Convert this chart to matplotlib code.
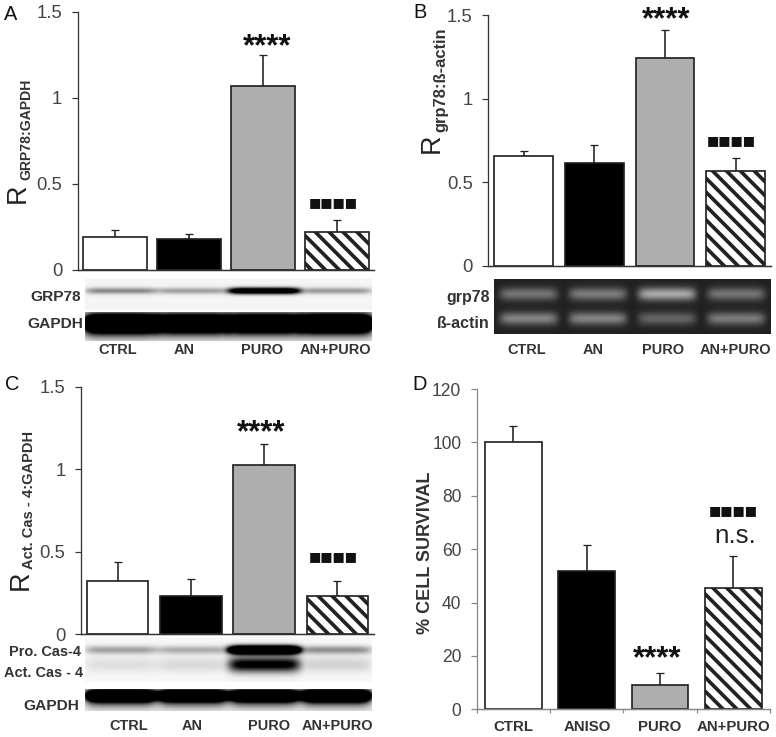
import numpy as np
import matplotlib
matplotlib.use("Agg")
import matplotlib.pyplot as plt

W, H = 776, 737
DPI = 125
PX = 72 / DPI  # one pixel in points

plt.rcParams['font.family'] = ['Liberation Sans', 'DejaVu Sans']
plt.rcParams['hatch.linewidth'] = 3.7 * PX

# bar data
labels_a = ["CTRL", "AN", "PURO", "AN+PURO"]
values_a = [0.19, 0.18, 1.07, 0.22]
errors_a = [0.045, 0.03, 0.18, 0.07]

labels_b = ["CTRL", "AN", "PURO", "AN+PURO"]
values_b = [0.655, 0.615, 1.245, 0.565]
errors_b = [0.03, 0.11, 0.165, 0.08]

labels_c = ["CTRL", "AN", "PURO", "AN+PURO"]
values_c = [0.32, 0.235, 1.025, 0.235]
errors_c = [0.115, 0.10, 0.125, 0.085]

labels_d = ["CTRL", "ANISO", "PURO", "AN+PURO"]
values_d = [100.3, 52, 9, 45.5]
errors_d = [5.8, 9.5, 4.5, 12]

# band strength per lane for the blots (0 = nothing, 1 = saturated)
grp78_a = [0.45, 0.35, 1.6, 0.38]
gapdh_a = [2.6, 2.4, 2.4, 2.6]
gapdh_a_low = [0.3, 0.25, 0.25, 0.25]
grp78_b = [0.55, 0.6, 0.9, 0.55]
actin_b = [0.65, 0.65, 0.45, 0.6]
pro_c = [0.35, 0.3, 2.6, 0.42]
act_c = [0.1, 0.12, 1.1, 0.15]
gapdh_c = [2.8, 2.6, 2.6, 2.8]
gapdh_c_low = [0.3, 0.3, 0.3, 0.3]


def px_axes(fig, left, top, right, bottom):
    return fig.add_axes([left / W, 1 - bottom / H, (right - left) / W, (bottom - top) / H])


def fig_text(fig, x, y, s, **kw):
    kw.setdefault('ha', 'center')
    kw.setdefault('va', 'center')
    return fig.text(x / W, 1 - y / H, s, **kw)


def draw_bars(ax, values, errors, width, ymax, yticks, ticklabels, size, axis_color):
    x = np.arange(len(values))
    colors = ['white', 'black', '#aeaeae', 'white']
    ax.errorbar(x, values, yerr=[np.zeros(4), errors], fmt='none', ecolor='#222222',
                elinewidth=1.6 * PX, capsize=4.5 * PX, capthick=1.3 * PX, zorder=1)
    for i in range(4):
        ax.bar(x[i], values[i], width, color=colors[i], edgecolor='#222222',
               linewidth=1.7 * PX, hatch='\\\\\\' if i == 3 else None, zorder=2)
    ax.set_xlim(-0.5, 3.5)
    ax.set_ylim(0, ymax)
    ax.set_yticks(yticks)
    ax.set_yticklabels(ticklabels, fontsize=size * PX, color='#444444')
    ax.tick_params(axis='y', length=6 * PX, width=1.2 * PX, color=axis_color, pad=9.5 * PX)
    for s in ['top', 'right']:
        ax.spines[s].set_visible(False)
    ax.spines['left'].set_color(axis_color)
    ax.spines['left'].set_linewidth(1.3 * PX)
    ax.spines['bottom'].set_color(axis_color)
    ax.spines['bottom'].set_linewidth(1.5 * PX)
    ax.set_xticks([])


def draw_blot(fig, box, bands, background, dark=False, lane_w=0.5):
    # bands: (height fraction, thickness fraction, lane strengths)
    left, top, right, bottom = box
    ax = px_axes(fig, left, top, right, bottom)
    h, w = bottom - top, right - left
    yy = np.linspace(0, 1, h * 2)[:, None]
    xx = np.linspace(0, 4, w * 2)
    img = np.zeros((h * 2, w * 2))
    for frac, thick, strengths in bands:
        lane = np.zeros_like(xx)
        for i, s in enumerate(strengths):
            lane += s * np.exp(-((xx - i - 0.5) / lane_w) ** 8)
        img += lane[None, :] * np.exp(-((yy - frac) / thick) ** 2)
    img = np.clip(img, 0, 1)
    if dark:
        rgb = background + (0.72 - background) * img
    else:
        rgb = background * (1 - img)
    ax.imshow(rgb, cmap='gray', vmin=0, vmax=1, aspect='auto', interpolation='bilinear')
    ax.axis('off')
    return ax


def lane_labels(fig, xs, y, labels, size=14.5):
    for xp, lab in zip(xs, labels):
        fig_text(fig, xp, y, lab, fontsize=size * PX, fontweight='bold', color='#333333')


def stars(fig, x, y):
    fig_text(fig, x, y, "****", fontsize=31 * PX, fontweight='bold', color='#111111')


def squares(fig, x, y, s="■■■■", size=13):
    fig_text(fig, x, y, s, fontsize=size * PX, color='#111111', family=['DejaVu Sans'])


def y_title(fig, x_r, y_r, main, x_s, y_s, sub, sub_size=14):
    fig_text(fig, x_r, y_r, main, fontsize=27 * PX, rotation=90, color='#222222')
    fig_text(fig, x_s, y_s, sub, fontsize=sub_size * PX, rotation=90,
             fontweight='bold', color='#333333')


fig = plt.figure(figsize=(W / DPI, H / DPI), dpi=DPI, facecolor='white')
ticks_r = [0, 0.5, 1, 1.5]
ticks_r_lab = ['0', '0.5', '1', '1.5']

# panel A
ax_a = px_axes(fig, 77.7, 11.7, 374, 270)
draw_bars(ax_a, values_a, errors_a, 0.87, 1.5, ticks_r, ticks_r_lab, 18.5, '#333333')
fig_text(fig, 11, 14, "A", fontsize=20 * PX, color='#111111')
y_title(fig, 18, 193, "R", 26, 129, "GRP78:GAPDH")
stars(fig, 267, 47)
squares(fig, 333, 203)
draw_blot(fig, (85, 279, 372, 310), [(0.40, 0.10, grp78_a)], 0.96)
draw_blot(fig, (85, 312, 372, 341), [(0.40, 0.30, gapdh_a), (0.75, 0.25, gapdh_a_low)], 0.92, lane_w=0.52)
fig_text(fig, 56, 297, "GRP78", fontsize=15.5 * PX, fontweight='bold', color='#333333')
fig_text(fig, 55, 324, "GAPDH", fontsize=15.5 * PX, fontweight='bold', color='#333333')
lane_labels(fig, [118, 184, 262, 335], 350, labels_a)

# panel B
ax_b = px_axes(fig, 488.3, 15, 771, 266)
draw_bars(ax_b, values_b, errors_b, 0.83, 1.5, ticks_r, ticks_r_lab, 18.5, '#333333')
fig_text(fig, 420, 12, "B", fontsize=20 * PX, color='#111111')
y_title(fig, 432, 143, "R", 441, 80, "grp78:ß-actin", 16.5)
stars(fig, 666, 20)
squares(fig, 731.5, 141)
draw_blot(fig, (494, 279, 770, 334), [(0.27, 0.12, grp78_b), (0.72, 0.12, actin_b)], 0.13,
          dark=True, lane_w=0.42)
fig_text(fig, 468, 297, "grp78", fontsize=16 * PX, fontweight='bold', color='#333333')
fig_text(fig, 463, 324, "ß-actin", fontsize=16 * PX, fontweight='bold', color='#333333')
lane_labels(fig, [527, 593, 663, 735], 350, labels_b)

# panel C
ax_c = px_axes(fig, 81, 386.7, 374, 634.3)
draw_bars(ax_c, values_c, errors_c, 0.84, 1.5, ticks_r, ticks_r_lab, 18.5, '#333333')
fig_text(fig, 12, 385, "C", fontsize=20 * PX, color='#111111')
y_title(fig, 21, 580, "R", 29, 500, "Act. Cas - 4:GAPDH", 14.6)
stars(fig, 261, 433)
squares(fig, 333, 557)
draw_blot(fig, (85, 637, 372, 682), [(0.30, 0.09, pro_c), (0.62, 0.17, act_c)], 0.97)
draw_blot(fig, (85, 689, 372, 711), [(0.30, 0.27, gapdh_c), (0.72, 0.25, gapdh_c_low)], 0.92, lane_w=0.49)
fig_text(fig, 45, 652, "Pro. Cas-4", fontsize=14.5 * PX, fontweight='bold', color='#333333')
fig_text(fig, 44, 673, "Act. Cas - 4", fontsize=14.5 * PX, fontweight='bold', color='#333333')
fig_text(fig, 51, 706, "GAPDH", fontsize=15.5 * PX, fontweight='bold', color='#333333')
lane_labels(fig, [129, 192, 269, 337], 726, labels_c)

# panel D
ax_d = px_axes(fig, 476.7, 389, 770, 709.3)
draw_bars(ax_d, values_d, errors_d, 0.77, 120, [0, 20, 40, 60, 80, 100, 120],
          ['0', '20', '40', '60', '80', '100', '120'], 17.5, '#888888')
ax_d.set_xticks([k - 0.5 for k in range(5)])
ax_d.set_xticklabels([])
ax_d.tick_params(axis='x', length=4 * PX, width=1.2 * PX, color='#888888', direction='out')
fig_text(fig, 420, 385, "D", fontsize=20 * PX, color='#111111')
fig_text(fig, 425, 553, "% CELL SURVIVAL", fontsize=18 * PX, rotation=90,
         fontweight='bold', color='#333333')
stars(fig, 657, 659)
squares(fig, 733, 511)
fig_text(fig, 735, 536, "n.s.", fontsize=26 * PX, color='#222222')
lane_labels(fig, [513, 587, 660, 733], 727, labels_d, 15)

fig.savefig("out.png", dpi=DPI, facecolor='white')
